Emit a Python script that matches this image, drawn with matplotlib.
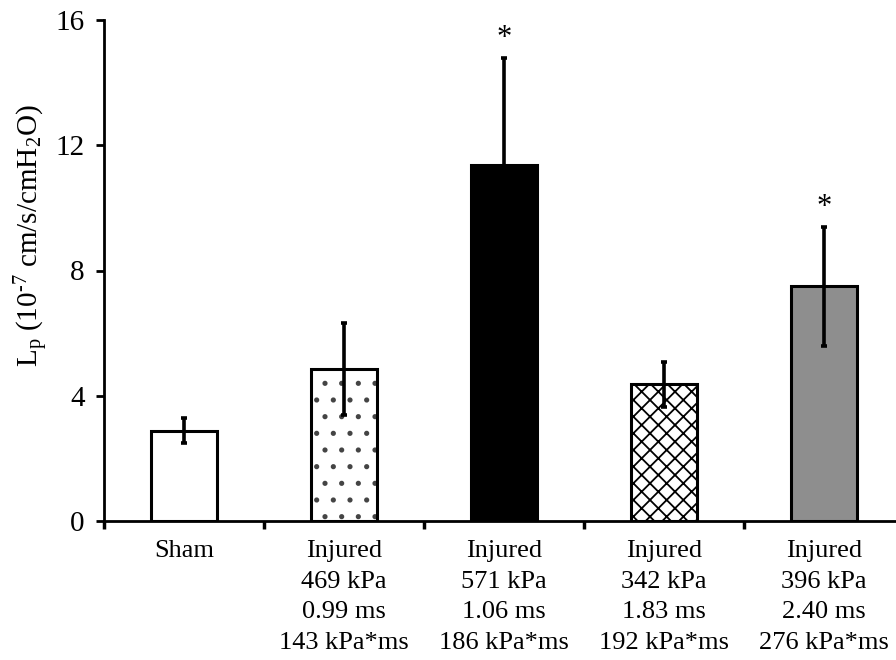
import matplotlib
matplotlib.use("Agg")
import matplotlib.pyplot as plt
import numpy as np

plt.rcParams['font.family'] = ['Liberation Serif', 'DejaVu Serif']
plt.rcParams['mathtext.fontset'] = 'custom'
plt.rcParams['mathtext.rm'] = 'Liberation Serif'
plt.rcParams['mathtext.it'] = 'Liberation Serif:italic'
plt.rcParams['hatch.linewidth'] = 1.3

categories = ["Sham",
              "Injured\n469 kPa\n0.99 ms\n143 kPa*ms",
              "Injured\n571 kPa\n1.06 ms\n186 kPa*ms",
              "Injured\n342 kPa\n1.83 ms\n192 kPa*ms",
              "Injured\n396 kPa\n2.40 ms\n276 kPa*ms"]
values = [2.88, 4.86, 11.36, 4.37, 7.49]
errors = [0.40, 1.47, 3.44, 0.72, 1.91]
significant = [False, False, True, False, True]
yticks = [0, 4, 8, 12, 16]

fig = plt.figure(figsize=(8.96, 6.6), dpi=100)
ax = fig.add_axes([104/896, 139/660, 800/896, 501/660])

x = np.arange(len(values))
width = 0.41
faces = ['white', 'white', 'black', 'white', '#8e8e8e']
hatches = [None, '.', None, 'xx', None]
hcolors = [None, '#444444', None, 'black', None]

for i in range(len(values)):
    if hatches[i]:
        ax.bar(x[i], values[i], width, color='white', edgecolor=hcolors[i],
               hatch=hatches[i], linewidth=0, zorder=2)
        ax.bar(x[i], values[i], width, color='none', edgecolor='black',
               linewidth=2.2, zorder=3)
    else:
        ax.bar(x[i], values[i], width, color=faces[i], edgecolor='black',
               linewidth=2.2, zorder=3)

ax.errorbar(x, values, yerr=errors, fmt='none', ecolor='black',
            elinewidth=2.6, capsize=2.5, capthick=2.6, zorder=4)

for i in range(len(values)):
    if significant[i]:
        ax.text(x[i], values[i] + errors[i] + 0.15, '*', ha='center',
                va='bottom', fontsize=22)

ax.set_xlim(-0.5, 4.5)
ax.set_ylim(0, 16)
ax.set_yticks(yticks)
ax.set_yticklabels([str(t) for t in yticks], fontsize=21)
ax.tick_params(axis='y', direction='out', length=6, width=2, pad=8)

ax.set_xticks(np.arange(-0.5, 5.0, 1.0))
ax.set_xticklabels([])
ax.tick_params(axis='x', which='major', direction='out', length=6, width=2.5)
ax.set_xticks(x, minor=True)
ax.set_xticklabels(categories, minor=True, fontsize=19, linespacing=1.5)
ax.tick_params(axis='x', which='minor', length=0, pad=14)

for s in ['top', 'right']:
    ax.spines[s].set_visible(False)
for s in ['left', 'bottom']:
    ax.spines[s].set_linewidth(2)

ax.set_ylabel(r'L$_{\mathrm{p}}$ (10$^{\text{-7}}$ cm/s/cmH$_{\mathrm{2}}$O)', fontsize=21)
ax.yaxis.set_label_coords(-0.066, 0.57)

fig.savefig('out.png', dpi=100)
